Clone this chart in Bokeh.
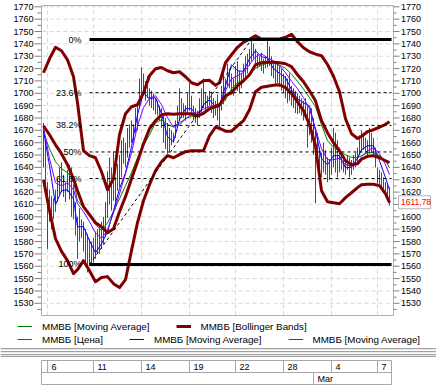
from bokeh.plotting import figure
from bokeh.models import Range1d, Legend, LegendItem
from bokeh.embed import file_html
from bokeh.resources import INLINE
from bokeh.core.properties import value

# ---------------- data ----------------
TICK_IDX = [2, 25, 49, 73, 96, 120, 144, 167]
TICK_LABELS = ["6", "11", "14", "19", "22", "28", "4", "7"]
MONTH_IDX = [135]
MONTH_LABELS = ["Mar"]

BAR_HIGH = [1676, 1662, 1628, 1622, 1617, 1615, 1622, 1631, 1640, 1644,
            1634, 1628, 1638, 1642, 1640, 1626, 1612, 1600,
            1607, 1598, 1596, 1590, 1586, 1582, 1580, 1583, 1588, 1590,
            1592, 1596, 1600, 1612, 1637, 1648, 1640, 1653, 1632, 1643,
            1650, 1662, 1664, 1660, 1672, 1675, 1678, 1675, 1688, 1691,
            1712, 1721, 1716, 1710, 1714, 1704, 1702, 1700, 1696, 1694,
            1690, 1688, 1683, 1680, 1676, 1672, 1670, 1668, 1678, 1690,
            1704, 1696, 1692, 1690, 1700, 1708, 1698, 1690, 1688, 1686,
            1696, 1704, 1712, 1700, 1698, 1702, 1700, 1696, 1694, 1699,
            1690, 1706, 1718, 1712, 1724, 1720, 1716, 1712, 1722, 1726,
            1718, 1716, 1724, 1730, 1732, 1736, 1744, 1740, 1736, 1732,
            1730, 1733, 1728, 1730, 1743, 1738, 1730, 1726, 1724, 1726,
            1722, 1720, 1716, 1714, 1712, 1716, 1706, 1704, 1702, 1700,
            1698, 1696, 1694, 1696, 1690, 1686, 1688, 1680, 1672, 1668,
            1656, 1652, 1660, 1654, 1648, 1646, 1656, 1672, 1668, 1662,
            1656, 1650, 1648, 1646, 1650, 1648, 1646, 1650, 1652, 1656,
            1666, 1670, 1668, 1664, 1662, 1672, 1668, 1664, 1656, 1640,
            1638, 1636, 1632, 1628, 1626, 1624]
BAR_LOW = [1640, 1622, 1574, 1596, 1590, 1598, 1604, 1612, 1618, 1620,
           1616, 1612, 1620, 1614, 1600, 1598, 1585, 1566,
           1580, 1583, 1572, 1562, 1555, 1560, 1562, 1563, 1566, 1570,
           1570, 1574, 1578, 1584, 1599, 1610, 1605, 1613, 1606, 1621,
           1624, 1632, 1643, 1640, 1648, 1656, 1660, 1661, 1668, 1670,
           1688, 1694, 1700, 1694, 1696, 1690, 1688, 1686, 1683, 1682,
           1678, 1672, 1660, 1655, 1651, 1653, 1658, 1660, 1664, 1672,
           1678, 1680, 1680, 1678, 1684, 1686, 1682, 1678, 1676, 1674,
           1680, 1684, 1688, 1686, 1688, 1690, 1684, 1680, 1682, 1678,
           1670, 1686, 1691, 1694, 1705, 1704, 1700, 1698, 1704, 1702,
           1700, 1704, 1710, 1713, 1716, 1722, 1726, 1728, 1724, 1720,
           1722, 1718, 1716, 1720, 1721, 1722, 1714, 1712, 1706, 1708,
           1705, 1702, 1700, 1696, 1692, 1694, 1690, 1688, 1684, 1683,
           1684, 1682, 1678, 1680, 1656, 1666, 1660, 1650, 1611, 1640,
           1634, 1632, 1636, 1634, 1628, 1630, 1634, 1640, 1636, 1632,
           1636, 1638, 1636, 1634, 1638, 1632, 1634, 1638, 1640, 1644,
           1650, 1653, 1654, 1652, 1650, 1651, 1652, 1648, 1640, 1627,
           1624, 1622, 1619, 1616, 1613, 1609]
BAR_IDX = list(range(len(BAR_HIGH)))

LINE_IDX = [0, 3, 6, 9, 12, 15, 17, 20, 23, 26, 29, 32, 35, 38, 41, 44, 47, 50,
            53, 56, 59, 62, 65, 68, 71, 74, 77, 80, 83, 86, 88, 91, 94, 97, 100,
            103, 106, 109, 112, 115, 118, 121, 124, 127, 130, 133, 136, 139, 142,
            145, 148, 151, 154, 157, 159, 162, 165, 168, 171, 173]
BB_UPPER = [1716.6, 1727.9, 1737.2, 1734.4, 1727.1, 1713.4, 1692.3, 1653.5, 1649.5, 1647.8,
            1636.5, 1621.9, 1630.8, 1666.4, 1683.4, 1689.1, 1690.7, 1700.4, 1714.2, 1719.8,
            1720.9, 1718.2, 1716.6, 1717.4, 1713.4, 1708.5, 1706.9, 1710.1, 1710.5, 1706.5,
            1708.5, 1724.7, 1731.2, 1737.2, 1741.3, 1743.7, 1746.5, 1743.9, 1743.9, 1743.9,
            1743.9, 1745.3, 1747.8, 1741.7, 1736.8, 1733.6, 1731.7, 1730.4, 1723.3, 1713.8,
            1701.2, 1679.4, 1667.2, 1663.4, 1665.2, 1668.9, 1670.5, 1672.5, 1674.9, 1677.0]
BB_MIDDLE = [1673.7, 1666.4, 1658.3, 1651.1, 1642.2, 1630.8, 1621.1, 1608.2, 1601.7, 1595.2,
             1592.0, 1587.2, 1590.4, 1604.1, 1616.3, 1630.8, 1644.6, 1659.1, 1671.3, 1677.8,
             1682.6, 1683.4, 1683.0, 1683.4, 1683.4, 1683.4, 1681.8, 1683.8, 1687.5, 1689.5,
             1690.7, 1698.0, 1700.4, 1706.1, 1710.1, 1715.0, 1723.1, 1724.7, 1725.1, 1725.1,
             1724.7, 1723.9, 1721.5, 1715.0, 1709.3, 1702.0, 1693.9, 1677.8, 1668.1, 1660.0,
             1653.5, 1645.4, 1642.2, 1643.0, 1646.6, 1649.0, 1649.5, 1647.8, 1645.4, 1643.8]
BB_LOWER = [1630.0, 1605.0, 1582.3, 1572.0, 1564.5, 1554.0, 1557.2, 1564.5, 1556.4, 1547.5,
            1550.8, 1551.6, 1545.9, 1542.7, 1549.1, 1572.6, 1595.3, 1613.0, 1626.0, 1637.3,
            1644.6, 1649.5, 1647.8, 1650.3, 1652.7, 1653.5, 1653.5, 1653.5, 1665.6, 1672.5,
            1671.7, 1669.3, 1669.3, 1673.7, 1677.8, 1686.7, 1701.2, 1704.9, 1705.7, 1706.5,
            1706.9, 1704.5, 1700.0, 1693.1, 1685.9, 1674.5, 1657.5, 1621.1, 1612.2, 1611.4,
            1610.6, 1615.5, 1619.5, 1623.6, 1626.0, 1626.4, 1626.4, 1625.2, 1618.7, 1611.4]
MA_GREEN = [1668.1, 1655.1, 1644.6, 1638.9, 1635.7, 1629.2, 1613.0, 1607.4, 1601.7, 1593.6,
            1588.8, 1595.2, 1604.1, 1614.6, 1625.2, 1635.7, 1647.8, 1657.5, 1666.4, 1676.1,
            1678.6, 1674.5, 1672.9, 1676.1, 1679.4, 1681.4, 1681.0, 1683.4, 1686.7, 1688.3,
            1689.1, 1694.8, 1703.7, 1708.5, 1710.9, 1714.6, 1720.2, 1722.7, 1724.3, 1724.7,
            1722.7, 1720.2, 1715.4, 1709.7, 1703.3, 1696.4, 1689.1, 1674.5, 1661.6, 1656.3,
            1652.7, 1650.3, 1648.2, 1647.8, 1649.5, 1651.9, 1651.9, 1649.5, 1645.4, 1639.7]
MA_BLUE = [1669.7, 1641.4, 1609.8, 1621.1, 1621.9, 1614.6, 1592.0, 1592.0, 1580.7, 1570.9,
           1578.2, 1587.8, 1605.0, 1622.8, 1635.7, 1656.7, 1682.6, 1700.4, 1695.6, 1696.4,
           1683.4, 1664.8, 1660.8, 1678.6, 1687.5, 1687.5, 1680.6, 1690.7, 1694.8, 1689.1,
           1689.1, 1706.1, 1723.1, 1718.2, 1717.8, 1727.9, 1734.4, 1729.5, 1728.7, 1719.8,
           1716.2, 1712.6, 1702.8, 1695.6, 1692.3, 1689.9, 1669.7, 1647.0, 1642.2, 1649.5,
           1649.5, 1639.7, 1640.1, 1647.4, 1654.3, 1657.5, 1657.5, 1645.4, 1631.6, 1621.9]
MA_PURPLE = [1672.9, 1647.0, 1627.6, 1625.2, 1627.6, 1621.9, 1610.6, 1604.1, 1596.1, 1587.0,
             1582.3, 1589.6, 1603.3, 1618.7, 1634.9, 1651.9, 1673.7, 1688.3, 1696.0, 1698.0,
             1690.7, 1680.2, 1672.5, 1674.5, 1679.1, 1683.0, 1684.4, 1687.1, 1689.5, 1689.9,
             1691.5, 1702.0, 1711.7, 1714.2, 1717.0, 1723.1, 1729.5, 1732.0, 1728.7, 1726.3,
             1722.3, 1716.6, 1709.7, 1703.7, 1696.4, 1687.5, 1671.3, 1655.1, 1646.2, 1646.2,
             1647.4, 1642.2, 1641.0, 1643.8, 1648.6, 1653.5, 1655.9, 1651.1, 1642.2, 1634.1]

FIB_LABELS = ["0%", "23.6%", "38.2%", "50%", "61.8%", "100%"]
FIB_LEVELS = [1743.5, 1700.5, 1674.0, 1652.5, 1631.0, 1561.5]
FIB_START_IDX = 23
FIB_END_IDX = 174
TREND_IDX = [23, 104]
TREND_VAL = [1561.5, 1743.5]
LAST_PRICE = 1611.78

Y_TICKS = list(range(1530, 1771, 10))
Y_MINOR = list(range(1525, 1770, 10))

LEGEND_ROW1 = ["ММВБ [Moving Average]", "ММВБ [Bollinger Bands]"]
LEGEND_ROW2 = ["ММВБ [Цена]", "ММВБ [Moving Average]", "ММВБ [Moving Average]"]

# ---------------- layout / styles ----------------
RED = "#ff0000"
GREEN = "#008000"
BLUE = "#0000ff"
PURPLE = "#8000ff"
BB = "#800000"
GRIDC = "#d8d8d8"
AXC = "#b0b0b0"
TICKC = "#808080"
FONT = "Liberation Sans"

W, H = 436, 392
FRAME_L, FRAME_R, FRAME_T, FRAME_B = 42, 393, 5, 315     # plot area in page pixels
PPI = 2.0                                                 # pixels per bar
X_START = -0.5                                            # bar index at left edge
X_END = X_START + (FRAME_R - FRAME_L) / PPI
Y_FRAME_TOP, Y_FRAME_BOT = 1771.05, 1520.12
PPU = (FRAME_B - FRAME_T) / (Y_FRAME_TOP - Y_FRAME_BOT)

p = figure(width=W, height=H, title=None,
           x_range=Range1d(X_START - FRAME_L / PPI, X_END + (W - FRAME_R) / PPI),
           y_range=Range1d(Y_FRAME_BOT - (H - FRAME_B) / PPU, Y_FRAME_TOP + FRAME_T / PPU),
           output_backend="svg", toolbar_location=None,
           x_axis_location=None, y_axis_location=None, min_border=0,
           outline_line_color=None, background_fill_color="white",
           border_fill_color="white")
p.grid.visible = False
p.extra_x_ranges = {"px": Range1d(0, W)}
p.extra_y_ranges = {"px": Range1d(H, 0)}

# grid
p.segment(x0=FRAME_L, x1=FRAME_R, y0=Y_TICKS, y1=Y_TICKS, x_range_name="px",
          line_color=GRIDC, line_dash="4 3")
p.segment(x0=TICK_IDX, x1=TICK_IDX, y0=Y_FRAME_BOT, y1=Y_FRAME_TOP,
          line_color=GRIDC, line_dash="4 3")

# frame / axis lines
p.segment(x0=[FRAME_L - 1, FRAME_L - 1, FRAME_L - 1, FRAME_R],
          x1=[FRAME_R, FRAME_R, FRAME_L - 1, FRAME_R],
          y0=[FRAME_T, FRAME_B, FRAME_T, FRAME_T],
          y1=[FRAME_T, FRAME_B, FRAME_B, FRAME_B],
          x_range_name="px", y_range_name="px", line_color=AXC)

# value scales (left and right)
p.segment(x0=FRAME_L - 8, x1=FRAME_L - 1, y0=Y_TICKS, y1=Y_TICKS, x_range_name="px",
          line_color=TICKC)
p.segment(x0=FRAME_L - 5, x1=FRAME_L - 1, y0=Y_MINOR, y1=Y_MINOR, x_range_name="px",
          line_color=TICKC)
p.segment(x0=FRAME_R, x1=FRAME_R + 6, y0=Y_TICKS, y1=Y_TICKS, x_range_name="px",
          line_color=TICKC)
p.segment(x0=FRAME_R, x1=FRAME_R + 3, y0=Y_MINOR, y1=Y_MINOR, x_range_name="px",
          line_color=TICKC)
tick_text = [str(t) for t in Y_TICKS]
p.text(x=FRAME_L - 9, y=Y_TICKS, text=tick_text, x_range_name="px", text_align="right",
       text_baseline="middle", text_font=value(FONT), text_font_size="9px", text_color="black")
p.text(x=FRAME_R + 7.5, y=Y_TICKS, text=tick_text, x_range_name="px", text_align="left",
       text_baseline="middle", text_font=value(FONT), text_font_size="9px", text_color="black")

# price bars
r_red = p.segment(x0=BAR_IDX, x1=BAR_IDX, y0=BAR_LOW, y1=BAR_HIGH, line_color=RED, line_width=1)
# moving averages
r_green = p.line(LINE_IDX, MA_GREEN, line_color=GREEN, line_width=1)
r_blue = p.line(LINE_IDX, MA_BLUE, line_color=BLUE, line_width=1)
r_purple = p.line(LINE_IDX, MA_PURPLE, line_color=PURPLE, line_width=1)
# Bollinger bands
r_bb = None
for band in (BB_UPPER, BB_MIDDLE, BB_LOWER):
    r = p.line(LINE_IDX, band, line_color=BB, line_width=3, line_join="round")
    r_bb = r_bb or r

# Fibonacci retracement
solid = [0, 5]
dashed = [1, 2, 3, 4]
p.segment(x0=FIB_START_IDX, x1=FIB_END_IDX,
          y0=[FIB_LEVELS[i] for i in solid], y1=[FIB_LEVELS[i] for i in solid],
          line_color="black", line_width=3)
p.segment(x0=FIB_START_IDX, x1=FIB_END_IDX,
          y0=[FIB_LEVELS[i] for i in dashed], y1=[FIB_LEVELS[i] for i in dashed],
          line_color="black", line_width=1, line_dash="3 3")
p.line(TREND_IDX, TREND_VAL, line_color="black", line_width=1, line_dash="3 3")
p.text(x=FIB_START_IDX, y=FIB_LEVELS, text=FIB_LABELS, x_offset=-8,
       text_align="right", text_baseline="middle",
       text_font=value(FONT), text_font_size="9px", text_color="black")

# last price marker on the right scale
last_text = f"{LAST_PRICE:.2f}".replace(".", ",")
p.rect(x=FRAME_R + 21, y=LAST_PRICE, width=32, height=13, height_units="screen",
       x_range_name="px", fill_color="white", line_color="#b4b4b4")
p.text(x=FRAME_R + 7.5, y=LAST_PRICE, text=[last_text], x_range_name="px",
       text_align="left", text_baseline="middle", text_font=value(FONT),
       text_font_size="8.5px", text_color=RED)

# legend (two rows)
def make_legend(items, loc):
    return Legend(items=items, orientation="horizontal", location=loc,
                  padding=0, margin=0, spacing=26, glyph_width=15, glyph_height=12,
                  label_standoff=10, label_height=12, label_width=10,
                  border_line_color=None, background_fill_alpha=0,
                  label_text_font=FONT, label_text_font_size="9.8px",
                  label_text_color="black")

p.add_layout(make_legend([LegendItem(label=LEGEND_ROW1[0], renderers=[r_green]),
                          LegendItem(label=LEGEND_ROW1[1], renderers=[r_bb])], (17, 60)))
p.add_layout(make_legend([LegendItem(label=LEGEND_ROW2[0], renderers=[r_red]),
                          LegendItem(label=LEGEND_ROW2[1], renderers=[r_blue]),
                          LegendItem(label=LEGEND_ROW2[2], renderers=[r_purple])], (17, 47)))

# splitter bar
SPLIT_Y = [348, 349, 351, 352, 354, 355, 356]
SPLIT_C = ["#a0a0a0", "#e8e8e8", "#a0a0a0", "#e8e8e8", "#a0a0a0", "#e8e8e8", "#a0a0a0"]
p.segment(x0=0, x1=W, y0=SPLIT_Y, y1=SPLIT_Y, x_range_name="px", y_range_name="px",
          line_color=SPLIT_C)

# time scale box
BOX_T, BOX_M, BOX_B = 360, 372, 384
BOX_L, BOX_R = FRAME_L - 1, FRAME_R - 2
p.segment(x0=BOX_L, x1=BOX_R, y0=[BOX_T, BOX_M, BOX_B], y1=[BOX_T, BOX_M, BOX_B],
          x_range_name="px", y_range_name="px", line_color="#a8a8a8")
p.segment(x0=[BOX_L, BOX_R], x1=[BOX_L, BOX_R],
          y0=BOX_T, y1=BOX_B, x_range_name="px", y_range_name="px", line_color="#a8a8a8")
p.segment(x0=TICK_IDX, x1=TICK_IDX, y0=BOX_T, y1=BOX_M, y_range_name="px", line_color="#a8a8a8")
p.segment(x0=MONTH_IDX, x1=MONTH_IDX, y0=BOX_M, y1=BOX_B, y_range_name="px", line_color="#a8a8a8")
p.text(x=TICK_IDX, y=(BOX_T + BOX_M) / 2 + 0.5, text=TICK_LABELS, x_offset=4, y_range_name="px",
       text_align="left", text_baseline="middle", text_font=value(FONT),
       text_font_size="9px", text_color="black")
p.text(x=MONTH_IDX, y=(BOX_M + BOX_B) / 2 + 0.5, text=MONTH_LABELS, x_offset=4, y_range_name="px",
       text_align="left", text_baseline="middle", text_font=value(FONT),
       text_font_size="9px", text_color="black")

open("out.html", "w").write(file_html(p, INLINE))
